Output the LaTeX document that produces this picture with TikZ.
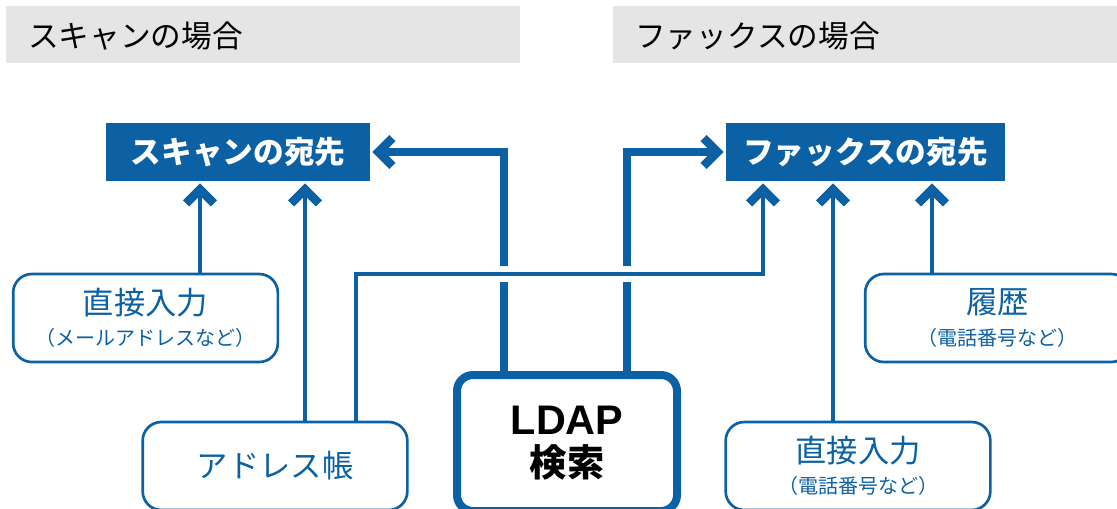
\documentclass[tikz,border=0pt]{standalone}
\usepackage{fontspec}
\setmainfont{Noto Sans CJK JP}
\newfontfamily\ldapfont{Liberation Sans}
\usetikzlibrary{arrows.meta}
\definecolor{linkblue}{HTML}{0B61A4}
\definecolor{headgray}{HTML}{E5E5E5}
\newcommand{\subnote}[1]{{\fontsize{15}{17}\selectfont #1}}

\begin{document}
\begin{tikzpicture}[
    x=0.75pt, y=-0.75pt,
    % grey strips with the two titles
    headbox/.style={
        rectangle,
        fill=headgray,
        minimum height=42.75pt,
        anchor=north west,
        inner sep=0pt
    },
    headtext/.style={
        anchor=west,
        inner sep=0pt,
        font=\fontsize{23}{27}\selectfont
    },
    % blue destination boxes
    destbox/.style={
        rectangle,
        fill=linkblue,
        text=white,
        minimum height=43.5pt,
        font=\bfseries\fontsize{23}{27}\selectfont
    },
    % rounded boxes the addresses come from
    srcbox/.style={
        rectangle,
        rounded corners=14pt,
        draw=linkblue,
        line width=2pt,
        text=linkblue,
        minimum width=198.5pt,
        minimum height=66pt,
        align=center,
        font=\fontsize{23.5}{27}\selectfont
    },
    ldapbox/.style={
        rectangle,
        rounded corners=12pt,
        draw=linkblue,
        line width=6pt,
        minimum width=165pt,
        minimum height=102pt,
        align=center,
        font=\bfseries\fontsize{28}{31.5}\selectfont
    },
    % connectors
    link/.style={
        draw=linkblue,
        line width=3.5pt,
        shorten >=1.5pt,
        -{Straight Barb[length=10.5pt, width=21pt, line width=6.5pt 0 1]}
    },
    thicklink/.style={
        link,
        line width=6.2pt
    },
    bridge/.style={
        preaction={draw=white, line width=12pt, shorten <=1.5pt, shorten >=0pt, -}
    }
]

    \useasboundingbox (0,0) rectangle (1117,508);
    \clip (0,0) rectangle (1117,508);

    % title strips
    \node[headbox, minimum width=385.5pt] (scanhead) at (6,6) {};
    \node[headtext] (scantitle) at (28,36) {スキャンの場合};
    \node[headbox, minimum width=397.5pt] (faxhead) at (613,6) {};
    \node[headtext] (faxtitle) at (635,36) {ファックスの場合};

    % destinations
    \node[destbox, minimum width=198pt] (scandest) at (238,152) {スキャンの宛先};
    \node[destbox, minimum width=209.25pt] (faxdest) at (865.5,152) {ファックスの宛先};

    % sources
    \node[srcbox] (scaninput) at (145.5,318) {直接入力\\[-3.5pt]\subnote{（メールアドレスなど）}};
    \node[srcbox] (addrbook) at (275,466) {アドレス帳};
    \node[ldapbox] (ldap) at (567,443) {{\ldapfont\fontsize{31}{31.5}\selectfont LDAP}\\検索};
    \node[srcbox] (faxinput) at (858,466) {直接入力\\[-3.5pt]\subnote{（電話番号など）}};
    \node[srcbox] (history) at (997.5,318) {履歴\\[-3.5pt]\subnote{（電話番号など）}};

    % LDAP feeds both destinations
    \draw[thicklink] (504,0 |- ldap.north) |- (scandest.east);
    \draw[thicklink] (627,0 |- ldap.north) |- (faxdest.west);

    % scan side
    \draw[link] (200,0 |- scaninput.north) -- (200,0 |- scandest.south);
    \draw[link] (305,0 |- addrbook.north) -- (305,0 |- scandest.south);

    % address book also goes to fax, passing over the LDAP lines
    \draw[link, bridge] (356,0 |- addrbook.north) -- (356,274) -- (763,274) -- (763,0 |- faxdest.south);

    % fax side
    \draw[link] (833,0 |- faxinput.north) -- (833,0 |- faxdest.south);
    \draw[link] (932,0 |- history.north) -- (932,0 |- faxdest.south);

\end{tikzpicture}
\end{document}
